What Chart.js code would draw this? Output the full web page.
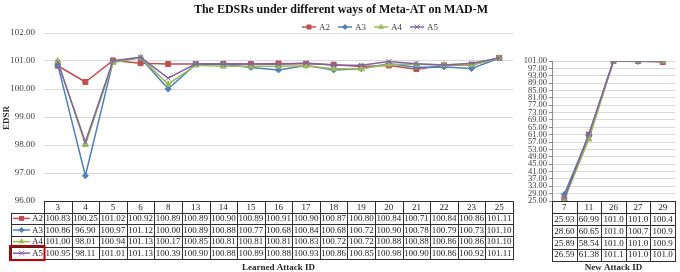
<!DOCTYPE html>
<html><head><meta charset="utf-8">
<script src="https://cdn.jsdelivr.net/npm/chart.js@4.4.1/dist/chart.umd.min.js"></script>
<style>
html,body{margin:0;padding:0;background:#fff;}
#wrap{position:relative;width:680px;height:272px;overflow:hidden;background:#fff;}
#left{position:absolute;left:0;top:0;width:520px;height:272px;}
#right{position:absolute;left:520px;top:0;width:160px;height:272px;}
</style></head><body>
<div id="wrap"><canvas id="left" width="520" height="272"></canvas><canvas id="right" width="160" height="272"></canvas></div>
<script>
// ---------- data ----------
const chartTitle = 'The EDSRs under different ways of Meta-AT on MAD-M';
const yTitle = 'EDSR';
const learnedTitle = 'Learned Attack ID';
const newTitle = 'New Attack ID';
const seriesNames = ['A2', 'A3', 'A4', 'A5'];
const seriesColors = ['#C0504D', '#4F81BD', '#9BBB59', '#8064A2'];
const seriesMarkers = ['rect', 'rectRot', 'triangle', 'crossRot'];

const learnedIds = ['3','4','5','6','8','13','14','15','16','17','18','19','20','21','22','23','25'];
const learnedA2 = [100.83,100.25,101.02,100.92,100.89,100.89,100.90,100.89,100.91,100.90,100.87,100.80,100.84,100.71,100.84,100.86,101.11];
const learnedA3 = [100.86,96.90,100.97,101.12,100.00,100.89,100.88,100.77,100.68,100.84,100.68,100.72,100.90,100.78,100.79,100.73,101.10];
const learnedA4 = [101.00,98.01,100.94,101.13,100.17,100.85,100.81,100.81,100.81,100.83,100.72,100.72,100.88,100.88,100.86,100.86,101.10];
const learnedA5 = [100.95,98.11,101.01,101.13,100.39,100.90,100.88,100.89,100.88,100.93,100.86,100.85,100.98,100.90,100.86,100.92,101.11];

const newIds = ['7','11','26','27','29'];
const newA2 = [25.93,60.99,101.0,101.0,100.4];
const newA3 = [28.60,60.65,101.0,100.7,100.9];
const newA4 = [25.89,58.54,101.0,101.0,100.9];
const newA5 = [26.59,61.38,101.1,101.0,101.0];

const leftAxis = {min: 96, max: 102, step: 1};
const rightAxis = {min: 25, max: 101, step: 4};

// ---------- helpers ----------
const SERIF = '"Liberation Serif", "DejaVu Serif", serif';
const TEXT = '#404040';
const GRID = '#D9D9D9';
const TABLE_LINE = '#303030';

function marker(ctx, style, x, y, r, color) {
  ctx.save();
  ctx.fillStyle = color; ctx.strokeStyle = color; ctx.lineWidth = 1;
  ctx.beginPath();
  if (style === 'rect') {
    const s = r * Math.SQRT1_2;
    ctx.rect(x - s, y - s, 2 * s, 2 * s); ctx.fill();
  } else if (style === 'rectRot') {
    ctx.moveTo(x, y - r); ctx.lineTo(x + r, y); ctx.lineTo(x, y + r); ctx.lineTo(x - r, y); ctx.closePath(); ctx.fill();
  } else if (style === 'triangle') {
    ctx.moveTo(x, y - r); ctx.lineTo(x + r * 0.866, y + r * 0.5); ctx.lineTo(x - r * 0.866, y + r * 0.5); ctx.closePath(); ctx.fill();
  } else {
    const s = r * Math.SQRT1_2;
    ctx.moveTo(x - s, y - s); ctx.lineTo(x + s, y + s); ctx.moveTo(x + s, y - s); ctx.lineTo(x - s, y + s); ctx.stroke();
  }
  ctx.restore();
}
function markerRadius(i) { return [3.5, 3, 3.5, 3.5][i]; }

function legendSample(ctx, i, x0, x1, y) {
  ctx.save();
  ctx.strokeStyle = seriesColors[i]; ctx.lineWidth = 1.5;
  ctx.beginPath(); ctx.moveTo(x0, y); ctx.lineTo(x1, y); ctx.stroke();
  ctx.restore();
  marker(ctx, seriesMarkers[i], (x0 + x1) / 2, y, markerRadius(i), seriesColors[i]);
}

function hline(ctx, x0, x1, y) { ctx.beginPath(); ctx.moveTo(x0, Math.round(y) + 0.5); ctx.lineTo(x1, Math.round(y) + 0.5); ctx.stroke(); }
function vline(ctx, x, y0, y1) { ctx.beginPath(); ctx.moveTo(Math.round(x) + 0.5, y0); ctx.lineTo(Math.round(x) + 0.5, y1); ctx.stroke(); }

function drawTable(chart, cats, rows, fmt, rowH, labelLeft, title) {
  const ctx = chart.ctx, ca = chart.chartArea, xs = chart.scales.x;
  const n = cats.length, w = (ca.right - ca.left) / n;
  const top = ca.bottom;
  const nRows = rows.length + 1;
  const rowY = r => top + r * rowH;
  const bottom = rowY(nRows);
  ctx.save();
  ctx.strokeStyle = TABLE_LINE; ctx.lineWidth = 1;
  for (let r = 0; r <= nRows; r++) {
    const x0 = (labelLeft !== null && r >= 1) ? labelLeft : ca.left;
    hline(ctx, x0, ca.right + 1, rowY(r));
  }
  for (let c = 0; c <= n; c++) vline(ctx, ca.left + c * w, Math.round(top), Math.round(bottom) + 1);
  if (labelLeft !== null) vline(ctx, labelLeft, Math.round(rowY(1)), Math.round(bottom) + 1);
  ctx.fillStyle = '#1a1a1a';
  ctx.font = '9px ' + SERIF;
  ctx.textAlign = 'center'; ctx.textBaseline = 'middle';
  for (let c = 0; c < n; c++) {
    const cx = xs.getPixelForValue(c);
    ctx.fillText(cats[c], cx, rowY(0.5) + 0.5);
    for (let r = 0; r < rows.length; r++) ctx.fillText(fmt(rows[r][c]), cx, rowY(r + 1.5) + 0.5);
  }
  if (labelLeft !== null) {
    for (let r = 0; r < rows.length; r++) {
      const y = rowY(r + 1.5);
      legendSample(ctx, r, labelLeft + 2, labelLeft + 19, y);
      ctx.fillStyle = '#1a1a1a'; ctx.textAlign = 'left';
      ctx.fillText(seriesNames[r], labelLeft + 21, y + 0.5);
    }
    ctx.strokeStyle = '#C00000'; ctx.lineWidth = 2;
    ctx.strokeRect(labelLeft - 1, Math.round(rowY(rows.length)) - 1, ca.left - labelLeft + 1.5, rowH + 2.5);
  }
  ctx.fillStyle = '#262626';
  ctx.font = 'bold 9px ' + SERIF;
  ctx.textAlign = 'center'; ctx.textBaseline = 'middle';
  ctx.fillText(title, (ca.left + ca.right) / 2, 268);
  ctx.restore();
}

function makeDatasets(values) {
  return values.map((vals, i) => ({
    label: seriesNames[i],
    data: vals,
    borderColor: seriesColors[i],
    backgroundColor: seriesColors[i],
    pointBackgroundColor: seriesColors[i],
    pointBorderColor: seriesColors[i],
    pointBorderWidth: 1,
    borderWidth: 1.5,
    pointStyle: seriesMarkers[i],
    pointRadius: markerRadius(i),
    tension: 0,
    order: 3 - i
  }));
}

// ---------- left chart ----------
const leftPlugin = {
  id: 'leftDecor',
  afterDraw(chart) {
    const ctx = chart.ctx;
    ctx.save();
    ctx.fillStyle = '#111';
    ctx.font = 'bold 12px ' + SERIF;
    ctx.textAlign = 'center'; ctx.textBaseline = 'middle';
    ctx.fillText(chartTitle, 341, 10);
    // legend
    ctx.font = '9px ' + SERIF;
    const lineW = 14, gap = 3, between = 8;
    const widths = seriesNames.map(s => lineW + gap + ctx.measureText(s).width);
    const total = widths.reduce((a, b) => a + b, 0) + between * (seriesNames.length - 1);
    let x = 370 - total / 2;
    seriesNames.forEach((s, i) => {
      legendSample(ctx, i, x, x + lineW, 27);
      ctx.fillStyle = TEXT; ctx.textAlign = 'left';
      ctx.fillText(s, x + lineW + gap, 27.5);
      x += widths[i] + between;
    });
    // y title
    ctx.save();
    ctx.translate(7, 118); ctx.rotate(-Math.PI / 2);
    ctx.font = 'bold 9px ' + SERIF; ctx.fillStyle = '#262626'; ctx.textAlign = 'center';
    ctx.fillText(yTitle, 0, 0);
    ctx.restore();
    ctx.restore();
    drawTable(chart, learnedIds, [learnedA2, learnedA3, learnedA4, learnedA5], v => v.toFixed(2), 11.6, 11, learnedTitle);
  }
};

new Chart(document.getElementById('left'), {
  type: 'line',
  data: { labels: learnedIds, datasets: makeDatasets([learnedA2, learnedA3, learnedA4, learnedA5]) },
  options: {
    responsive: false, animation: false, devicePixelRatio: 1,
    layout: { padding: { left: 0, top: 33, right: 7, bottom: 71 } },
    plugins: { legend: { display: false }, title: { display: false }, tooltip: { enabled: false } },
    scales: {
      x: { type: 'category', offset: true, display: false },
      y: {
        min: leftAxis.min, max: leftAxis.max,
        afterFit(s) { s.width = 44; },
        ticks: { stepSize: leftAxis.step, padding: 9, color: TEXT, font: { family: SERIF, size: 9 }, callback: v => Number(v).toFixed(2) },
        grid: { color: GRID, drawTicks: false },
        border: { display: false }
      }
    }
  },
  plugins: [leftPlugin]
});

// ---------- right chart ----------
const rightPlugin = {
  id: 'rightDecor',
  afterDraw(chart) {
    drawTable(chart, newIds, [newA2, newA3, newA4, newA5], v => v.toFixed(2).slice(0, 5), 11.9, null, newTitle);
  }
};

new Chart(document.getElementById('right'), {
  type: 'line',
  data: { labels: newIds, datasets: makeDatasets([newA2, newA3, newA4, newA5]) },
  options: {
    responsive: false, animation: false, devicePixelRatio: 1,
    layout: { padding: { left: 0, top: 61, right: 3, bottom: 71 } },
    plugins: { legend: { display: false }, title: { display: false }, tooltip: { enabled: false } },
    scales: {
      x: { type: 'category', offset: true, display: false },
      y: {
        min: rightAxis.min, max: rightAxis.max,
        afterFit(s) { s.width = 32; },
        ticks: { stepSize: rightAxis.step, autoSkip: false, padding: 2, color: TEXT, font: { family: SERIF, size: 8.5 }, callback: v => Number(v).toFixed(2) },
        grid: { color: GRID, drawTicks: true, tickLength: 3, tickColor: '#8c8c8c' },
        border: { display: true, color: '#8c8c8c' }
      }
    }
  },
  plugins: [rightPlugin]
});
</script>
</body></html>
